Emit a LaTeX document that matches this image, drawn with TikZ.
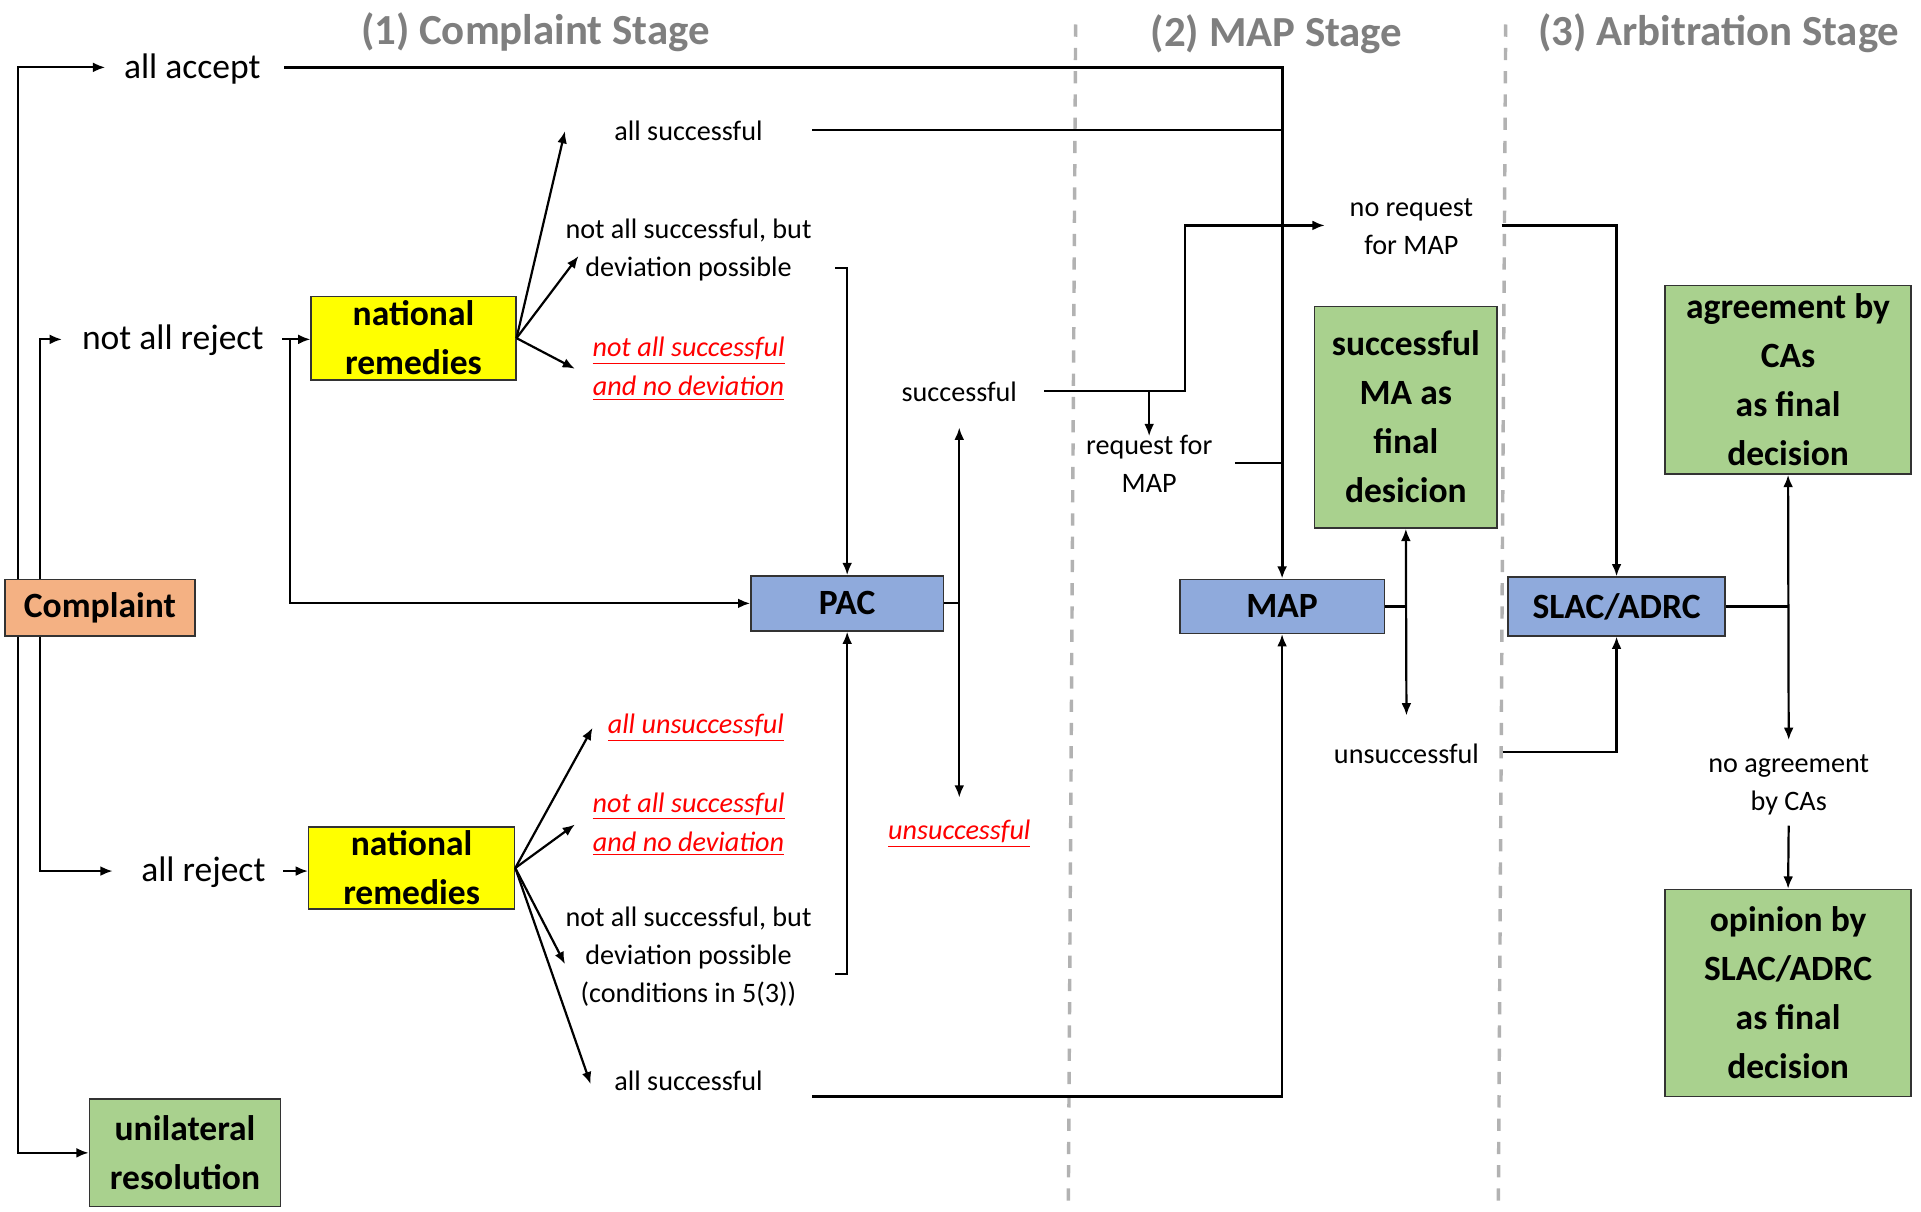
\documentclass[tikz,border=0pt]{standalone}
\usepackage{fontspec}
\setmainfont{Carlito}
\usetikzlibrary{arrows.meta}
\definecolor{complaintorange}{HTML}{F4B183}
\definecolor{remedyyellow}{HTML}{FFFF00}
\definecolor{finalgreen}{HTML}{A9D18E}
\definecolor{procblue}{HTML}{8FAADC}
\definecolor{stagegray}{HTML}{7F7F7F}
\definecolor{failred}{HTML}{FF0000}
\tikzstyle{box} = [
 rectangle,
 draw=black!80,
 line width=0.6pt,
 inner sep=0pt,
 align=center,
 font=\fontsize{14.5}{20}\selectfont\bfseries
]
\tikzstyle{stage} = [
 text=stagegray,
 inner sep=0pt,
 font=\fontsize{17.5}{20}\selectfont\bfseries
]
\tikzstyle{bigLabel} = [
 inner sep=0pt,
 font=\fontsize{14.5}{18}\selectfont
]
\tikzstyle{smallLabel} = [
 inner sep=0pt,
 align=center,
 font=\fontsize{11.5}{15.5}\selectfont
]
\tikzstyle{failLabel} = [
 inner sep=0pt,
 align=center,
 text=failred,
 font=\fontsize{11.5}{16}\selectfont\itshape
]
\tikzstyle{link} = [line width=0.9pt]
\tikzstyle{flow} = [line width=0.9pt, -{Latex[length=5pt,width=4pt]}]
\tikzstyle{twoway} = [
 line width=0.9pt,
 {Latex[length=5pt,width=4pt]}-{Latex[length=5pt,width=4pt]}
]
\tikzstyle{divider} = [gray!60, line width=1.4pt, dash pattern=on 5pt off 4.5pt]

\begin{document}
\begin{tikzpicture}[x=0.5pt, y=-0.5pt]
  \useasboundingbox (0,0) rectangle (1568,988.5);
  \node [stage] (st1) at (437,26) {(1) Complaint Stage};
  \node [stage] (st2) at (1042,28) {(2) MAP Stage};
  \node [stage] (st3) at (1403,27) {(3) Arbitration Stage};
  \draw [divider] (878,20) -- (872,985);
  \draw [divider] (1229,20) -- (1223,985);

  \node [box, fill=complaintorange, minimum width=77.5pt, minimum height=23pt] (cmp) at (81.5,496) {Complaint};
  \node [box, fill=remedyyellow, minimum width=83.5pt, minimum height=34pt] (nr1) at (337.5,276) {national\\remedies};
  \node [box, fill=remedyyellow, minimum width=84pt, minimum height=33.5pt] (nr2) at (336,708.5) {national\\remedies};
  \node [box, fill=finalgreen, minimum width=78pt, minimum height=44pt] (uni) at (151,941) {unilateral\\resolution};
  \node [box, fill=procblue, minimum width=78.5pt, minimum height=22.5pt] (pac) at (691.5,492.5) {PAC};
  \node [box, fill=procblue, minimum width=83.5pt, minimum height=22pt] (map) at (1046.5,495) {MAP};
  \node [box, fill=procblue, minimum width=88.5pt, minimum height=24pt] (slac) at (1319.5,495) {SLAC/ADRC};
  \node [box, fill=finalgreen, minimum width=74.5pt, minimum height=90.5pt] (sma) at (1147.5,340.5) {successful\\MA as\\final\\desicion};
  \node [box, fill=finalgreen, minimum width=100.5pt, minimum height=77pt] (agr) at (1459.5,310) {agreement by\\CAs\\as final\\decision};
  \node [box, fill=finalgreen, minimum width=100.5pt, minimum height=84.5pt] (opn) at (1459.5,810.5) {opinion by\\SLAC/ADRC\\as final\\decision};

  \node [bigLabel] (acc) at (157,56) {all accept};
  \node [bigLabel] (nar) at (141,278) {not all reject};
  \node [bigLabel] (ar) at (166,712) {all reject};
  \node [smallLabel] (as1) at (562,107) {all successful};
  \node [smallLabel] (nd1) at (562,204) {not all successful, but\\deviation possible};
  \node [failLabel] (nn1) at (562,301) {\underline{not all successful}\\\underline{and no deviation}};
  \node [smallLabel] (suc) at (783,320) {successful};
  \node [failLabel] (uns) at (783,681) {\underline{unsuccessful}};
  \node [failLabel] (au2) at (568,594) {\underline{all unsuccessful}};
  \node [failLabel] (nn2) at (562,673) {\underline{not all successful}\\\underline{and no deviation}};
  \node [smallLabel] (nd2) at (562,781) {not all successful, but\\deviation possible\\(conditions in 5(3))};
  \node [smallLabel] (as2) at (562,882) {all successful};
  \node [smallLabel] (nrq) at (1152,185) {no request\\for MAP};
  \node [smallLabel] (rq) at (938,379) {request for\\MAP};
  \node [smallLabel] (uns2) at (1148,615) {unsuccessful};
  \node [smallLabel] (nag) at (1460,641) {no agreement\\by CAs};

  \draw [flow] ([xshift=5.5pt]cmp.north west) |- ([xshift=-7.5pt,yshift=0.5pt]acc.west);
  \draw [flow] ([xshift=14.5pt]cmp.north west) |- ([xshift=-8pt,yshift=0.5pt]nar.west);
  \draw [flow] ([xshift=7.5pt,yshift=0.5pt]nar.east) -- ([yshift=0.5pt]nar.east -| nr1.west);
  \coordinate (j1) at ([xshift=10.5pt,yshift=0.5pt]nar.east);
  \draw [flow] (j1) |- (pac.west);
  \draw [flow] (nr1.east) -- ([xshift=-20pt]as1.west);
  \draw [flow] (nr1.east) -- ([xshift=5.5pt,yshift=-2.5pt]nd1.west);
  \draw [flow] (nr1.east) -- ([xshift=-7pt]nn1.west);
  \draw [flow] ([xshift=9.5pt,yshift=-7.5pt]nd1.east) -| (pac.north);
  \draw [link] (pac.east) -- (pac.east -| suc.center);
  \draw [twoway] ([yshift=-14.5pt]suc.center) -- ([yshift=15pt]uns.center);
  \draw [flow] ([xshift=11pt,yshift=0.5pt]suc.east) -- ++(115,0) |- ([xshift=-10pt,yshift=0.5pt]nrq.west);
  \draw [flow] ([yshift=0.5pt]suc.east -| rq.center) -- ([yshift=11.5pt]rq.center);
  \draw [link] ([xshift=9pt,yshift=0.5pt]rq.east) -- ([yshift=0.5pt]rq.east -| map.north);
  \draw [flow, line width=1.3pt] ([xshift=9.5pt,yshift=0.5pt]acc.east) -| (map.north);
  \draw [link] ([xshift=20pt,yshift=0.5pt]as1.east) -- ([yshift=0.5pt]as1.east -| map.north);
  \draw [link] (map.east) -- (map.east -| sma.south);
  \draw [twoway] (sma.south) -- ([yshift=15.5pt]uns2.center);
  \draw [flow] ([xshift=11.5pt,yshift=0.5pt]nrq.east) -| (slac.north);
  \draw [flow] ([xshift=9.5pt,yshift=0.5pt]uns2.east) -| (slac.south);
  \draw [link] (slac.east) -- (slac.east -| agr.south);
  \draw [twoway] (agr.south) -- ([yshift=18.5pt]nag.center);
  \draw [flow] ([yshift=-16.5pt]nag.center) -- (opn.north);
  \draw [flow] ([xshift=5.5pt]cmp.south west) |- (uni.west);
  \draw [flow] ([xshift=14.5pt]cmp.south west) |- ([xshift=-11.5pt,yshift=0.5pt]ar.west);
  \draw [flow] ([xshift=7pt,yshift=0.5pt]ar.east) -- ([yshift=0.5pt]ar.east -| nr2.west);
  \draw [flow] (nr2.east) -- ([xshift=-6pt]au2.west);
  \draw [flow] (nr2.east) -- ([xshift=-7pt]nn2.west);
  \draw [flow] (nr2.east) -- ([yshift=-3pt]nd2.west);
  \draw [flow] (nr2.east) -- ([xshift=-9.5pt,yshift=-1.5pt]as2.west);
  \draw [flow] ([xshift=9.5pt,yshift=-7pt]nd2.east) -| (pac.south);
  \draw [flow] ([xshift=20pt,yshift=-6.5pt]as2.east) -| (map.south);
\end{tikzpicture}
\end{document}
